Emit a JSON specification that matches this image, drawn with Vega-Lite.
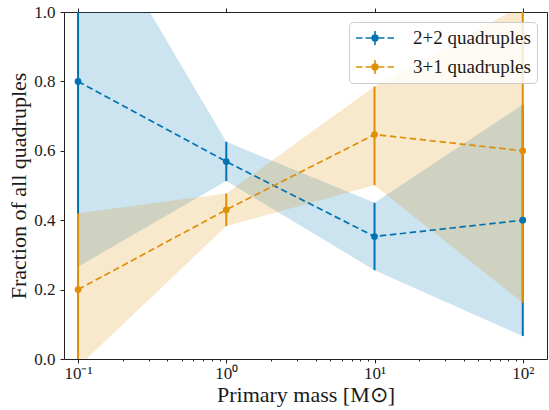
{
  "$schema": "https://vega.github.io/schema/vega-lite/v6.json",
  "width": 483,
  "height": 347,
  "autosize": "none",
  "padding": {"left": 64, "top": 12, "right": 2, "bottom": 51},
  "config": {
    "view": {"stroke": "#222222", "strokeWidth": 1},
    "font": "Liberation Serif"
  },
  "data": {
    "values": [
      {"series": "2+2 quadruples", "mass": 0.1, "frac": 0.8, "lo": 0.266, "hi": 1.35},
      {"series": "2+2 quadruples", "mass": 1, "frac": 0.569, "lo": 0.513, "hi": 0.626},
      {"series": "2+2 quadruples", "mass": 10, "frac": 0.353, "lo": 0.256, "hi": 0.45},
      {"series": "2+2 quadruples", "mass": 100, "frac": 0.4, "lo": 0.066, "hi": 0.733},
      {"series": "3+1 quadruples", "mass": 0.1, "frac": 0.2, "lo": -0.023, "hi": 0.42},
      {"series": "3+1 quadruples", "mass": 1, "frac": 0.43, "lo": 0.383, "hi": 0.477},
      {"series": "3+1 quadruples", "mass": 10, "frac": 0.647, "lo": 0.501, "hi": 0.785},
      {"series": "3+1 quadruples", "mass": 100, "frac": 0.6, "lo": 0.162, "hi": 1.02}
    ]
  },
  "layer": [
    {
      "mark": {"type": "area", "fillOpacity": 0.2, "clip": true},
      "encoding": {
        "x": {
          "field": "mass", "type": "quantitative",
          "scale": {"type": "log", "domain": [0.0804, 145.7], "nice": false},
          "axis": {
            "orient": "bottom",
            "title": "Primary mass [M⊙]",
            "values": [0.1, 0.2, 0.3, 0.4, 0.5, 0.6, 0.7, 0.8, 0.9, 1, 2, 3, 4, 5, 6, 7, 8, 9, 10, 20, 30, 40, 50, 60, 70, 80, 90, 100],
            "labelExpr": "datum.value == 0.1 ? '10⁻¹' : datum.value == 1 ? '10⁰' : datum.value == 10 ? '10¹' : datum.value == 100 ? '10²' : ''",
            "tickSize": {"condition": {"test": "datum.value == 0.1 || datum.value == 1 || datum.value == 10 || datum.value == 100", "value": 4}, "value": 2},
            "tickColor": "#222222",
            "domain": false,
            "grid": false,
            "labelOverlap": false,
            "labelFlush": false,
            "labelBound": false,
            "labelFont": "Liberation Serif",
            "labelFontSize": 17,
            "labelColor": "#1a1a1a",
            "labelBaseline": "top",
            "labelPadding": 2,
            "titleFont": "Liberation Serif",
            "titleFontSize": 22,
            "titleFontWeight": "normal",
            "titleColor": "#1a1a1a",
            "titleX": 241.5,
            "titleY": 42.5,
            "titleAlign": "center",
            "titleBaseline": "alphabetic"
          }
        },
        "y": {
          "field": "lo", "type": "quantitative", "stack": null,
          "scale": {"domain": [0, 1], "nice": false, "zero": false},
          "axis": {
            "orient": "left",
            "title": "Fraction of all quadruples",
            "values": [0, 0.2, 0.4, 0.6, 0.8, 1],
            "format": ".1f",
            "tickSize": 4,
            "tickColor": "#222222",
            "domain": false,
            "grid": false,
            "labelFont": "Liberation Serif",
            "labelFontSize": 17,
            "labelColor": "#1a1a1a",
            "labelPadding": 5,
            "labelFlush": false,
            "labelBound": false,
            "titleFont": "Liberation Serif",
            "titleFontSize": 22,
            "titleFontWeight": "normal",
            "titleColor": "#1a1a1a",
            "titleAngle": -90,
            "titleX": -39,
            "titleY": 173.5,
            "titleAlign": "center",
            "titleBaseline": "alphabetic"
          }
        },
        "y2": {"field": "hi"},
        "detail": {"field": "series", "type": "nominal"},
        "fill": {"condition": {"test": "datum.series == '2+2 quadruples'", "value": "#0173B2"}, "value": "#DE8F05"}
      }
    },
    {
      "mark": {"type": "rule", "strokeWidth": 2, "clip": true},
      "encoding": {
        "x": {"field": "mass", "type": "quantitative", "axis": null},
        "y": {"field": "lo", "type": "quantitative", "axis": null},
        "y2": {"field": "hi"},
        "stroke": {"condition": {"test": "datum.series == '2+2 quadruples'", "value": "#0173B2"}, "value": "#DE8F05"}
      }
    },
    {
      "mark": {"type": "line", "strokeDash": [6.5, 3.5], "strokeWidth": 1.7, "clip": true},
      "encoding": {
        "x": {
          "field": "mass", "type": "quantitative",
          "axis": {
            "orient": "top",
            "title": null,
            "values": [0.1, 1, 10, 100],
            "labels": false,
            "tickSize": 4,
            "tickColor": "#222222",
            "domain": false,
            "grid": false
          }
        },
        "y": {"field": "frac", "type": "quantitative", "axis": null},
        "detail": {"field": "series", "type": "nominal"},
        "stroke": {"condition": {"test": "datum.series == '2+2 quadruples'", "value": "#0173B2"}, "value": "#DE8F05"}
      }
    },
    {
      "mark": {"type": "point", "filled": true, "size": 45, "opacity": 1, "clip": true},
      "encoding": {
        "x": {"field": "mass", "type": "quantitative", "axis": null},
        "y": {"field": "frac", "type": "quantitative", "axis": null},
        "color": {
          "field": "series", "type": "nominal",
          "scale": {"domain": ["2+2 quadruples", "3+1 quadruples"], "range": ["#0173B2", "#DE8F05"]},
          "legend": {
            "title": null,
            "orient": "top-right",
            "offset": 10,
            "padding": 6,
            "fillColor": "rgba(255,255,255,0.8)",
            "strokeColor": "#cccccc",
            "cornerRadius": 4,
            "labelFont": "Liberation Serif",
            "labelFontSize": 19,
            "labelColor": "#1a1a1a",
            "labelOffset": 18,
            "symbolType": "M-1,0H-0.66M-0.5,0H0.5M0.66,0H1M0,-0.37V0.37M-0.15,0A0.15,0.15 0 1,0 0.15,0A0.15,0.15 0 1,0 -0.15,0Z",
            "symbolSize": 1444,
            "symbolStrokeWidth": 1.6,
            "symbolOpacity": 1,
            "clipHeight": 20,
            "rowPadding": 9,
            "encode": {
              "symbols": {
                "update": {
                  "shape": {"value": "M-1,0H-0.66M-0.5,0H0.5M0.66,0H1M0,-0.37V0.37M-0.15,0A0.15,0.15 0 1,0 0.15,0A0.15,0.15 0 1,0 -0.15,0Z"},
                  "size": {"value": 1444},
                  "fill": {"scale": "color", "field": "value"},
                  "stroke": {"scale": "color", "field": "value"},
                  "strokeWidth": {"value": 1.6},
                  "strokeOpacity": {"value": 1},
                  "fillOpacity": {"value": 1},
                  "opacity": {"value": 1}
                }
              }
            }
          }
        }
      }
    }
  ],
  "resolve": {"axis": {"x": "independent", "y": "independent"}}
}
